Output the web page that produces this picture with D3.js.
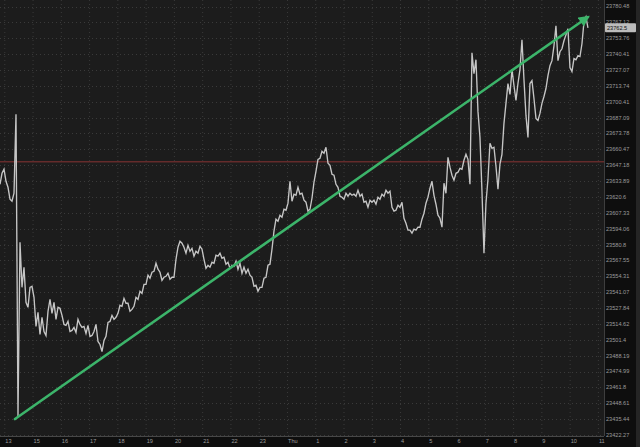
<!DOCTYPE html>
<html><head><meta charset="utf-8">
<script src="https://cdn.jsdelivr.net/npm/d3@7"></script>
<style>html,body{margin:0;padding:0;background:#1c1c1c;overflow:hidden}</style>
</head><body><svg id="c" width="640" height="447"></svg>
<script>
// price samples (one every ~4.2 minutes)
const prices = [
23631.2,23640.4,23643.8,23633.7,23628.7,23618.7,23617.0,23623.7,23689.8,23438.1,
23582.8,23545.1,23561.9,23532.6,23528.4,23545.1,23546.0,23536.8,23512.5,23524.2,
23505.8,23520.1,23508.3,23505.0,23525.1,23535.1,23523.4,23532.6,23518.4,23528.4,
23527.6,23521.7,23514.2,23513.4,23516.7,23508.3,23509.2,23511.7,23507.5,23518.4,
23514.2,23511.7,23512.5,23506.7,23513.4,23504.2,23505.0,23508.3,23514.2,23500.0,
23497.5,23491.6,23500.8,23504.2,23515.9,23516.7,23521.7,23518.4,23520.1,23523.4,
23530.1,23529.3,23535.9,23531.8,23531.8,23525.1,23526.7,23529.3,23536.8,23535.1,
23541.8,23540.1,23547.6,23547.6,23555.2,23552.7,23557.7,23558.5,23565.2,23560.2,
23557.7,23551.0,23553.5,23554.3,23556.8,23551.8,23553.5,23553.5,23568.5,23578.6,
23583.6,23581.9,23578.6,23573.6,23580.2,23575.2,23577.7,23571.1,23575.2,23573.6,
23579.4,23576.9,23568.5,23561.0,23563.5,23561.9,23566.0,23565.2,23571.9,23571.1,
23573.6,23569.4,23570.2,23564.4,23566.0,23561.0,23563.5,23562.7,23566.9,23560.2,
23565.2,23556.8,23561.9,23556.8,23560.2,23555.2,23553.5,23546.0,23546.8,23541.8,
23545.1,23545.1,23552.7,23553.5,23563.5,23564.4,23576.9,23592.0,23602.0,23600.3,
23605.3,23603.7,23610.3,23609.5,23615.4,23633.7,23617.0,23622.9,23622.0,23628.7,
23622.9,23623.7,23617.9,23616.2,23608.7,23610.3,23619.5,23632.9,23642.1,23652.1,
23653.0,23658.8,23657.2,23662.2,23648.8,23647.1,23639.6,23638.8,23631.2,23628.7,
23621.2,23620.4,23618.7,23623.7,23621.2,23623.7,23622.0,23622.9,23621.2,23626.2,
23621.2,23622.9,23616.2,23617.0,23612.0,23617.9,23616.2,23617.9,23614.5,23620.4,
23618.7,23622.9,23621.2,23626.2,23623.7,23625.4,23612.0,23608.7,23609.5,23613.7,
23612.0,23616.2,23602.8,23598.6,23592.8,23592.8,23590.3,23593.6,23592.8,23595.3,
23595.3,23602.0,23607.0,23615.4,23620.4,23627.9,23633.7,23622.0,23614.5,23605.3,
23602.8,23595.3,23632.1,23623.7,23653.8,23645.5,23638.8,23634.6,23640.4,23641.3,
23644.6,23643.8,23651.3,23656.3,23652.1,23631.2,23741.6,23724.0,23735.7,23692.3,
23670.5,23625.4,23573.6,23615.4,23635.4,23665.5,23661.3,23662.2,23646.3,23627.1,
23648.0,23656.3,23682.2,23699.0,23715.7,23706.5,23727.4,23714.0,23701.5,23715.7,
23727.4,23752.5,23719.0,23688.9,23670.5,23715.7,23718.2,23703.1,23686.4,23684.7,
23690.6,23699.0,23704.8,23711.5,23722.4,23730.7,23734.9,23747.4,23764.2,23734.9,
23742.4,23744.9,23751.6,23756.6,23761.7,23729.1,23725.7,23736.6,23735.7,23739.1,
23738.3,23749.1,23767.5,23771.7,23762.5
];
const startMinute = -10.2;     // time of first sample, minutes from first hour tick
const stepMinutes = 4.245;     // sampling interval
const visibleMinutes = [-10.2, 1274];

const xTickLabels = ["13","15","16","17","18","19","20","21","22","23","Thu","1","2","3","4","5","6","7","8","9","10","11"];
const xTickMinutes = [0,60,120,180,240,300,360,420,480,540,600,660,720,780,840,900,960,1020,1080,1140,1200,1260];

const yTickLabels = ["23780.48","23767.12","23753.76","23740.41","23727.07","23713.74","23700.41","23687.09","23673.78","23660.47","23647.18","23633.89","23620.6","23607.33","23594.06","23580.8","23567.55","23554.31","23541.07","23527.84","23514.62","23501.4","23488.19","23474.99","23461.8","23448.61","23435.44","23422.27"];

const prevClose = 23650.0;
const lastPriceLabel = "23762.5";
const lastPrice = 23762.5;
const trendFrom = [21.6, 23435.5];
const trendTo = [1237.8, 23771.6];

const W = 640, H = 447, plotR = 604, plotB = 436;
const svg = d3.select("#c");
const font = "'Liberation Sans', Arial, sans-serif";

const x = d3.scaleLinear().domain(visibleMinutes).range([0, 605]);
const y = d3.scaleLog().domain([23422.27, 23780.48]).range([435, 6.5]);

svg.append("rect").attr("width", W).attr("height", H).attr("fill", "#1c1c1c");

const defs = svg.append("defs");
defs.append("clipPath").attr("id", "plot").append("rect").attr("width", plotR).attr("height", plotB);
defs.append("marker").attr("id", "ah").attr("markerUnits", "userSpaceOnUse")
  .attr("viewBox", "0 0 10 10").attr("refX", 8).attr("refY", 5)
  .attr("markerWidth", 12).attr("markerHeight", 11).attr("orient", "auto")
  .append("path").attr("d", "M0,0 L10,5 L0,10 Z").attr("fill", "#3cb46a");

const g = svg.append("g").attr("clip-path", "url(#plot)");

// grid
g.selectAll("line.vg").data(xTickMinutes).join("line")
  .attr("x1", d => x(d)).attr("x2", d => x(d)).attr("y1", 0).attr("y2", plotB)
  .attr("stroke", "#3a3a3a").attr("stroke-width", 1).attr("stroke-dasharray", "1,3");
g.selectAll("line.hg").data(yTickLabels).join("line")
  .attr("x1", 0).attr("x2", plotR).attr("y1", d => Math.round(y(+d)) + 0.5).attr("y2", d => Math.round(y(+d)) + 0.5)
  .attr("stroke", "#3a3a3a").attr("stroke-width", 1).attr("stroke-dasharray", "1,3");

// previous close
g.append("line").attr("x1", 0).attr("x2", plotR)
  .attr("y1", y(prevClose)).attr("y2", y(prevClose))
  .attr("stroke", "#8a3434").attr("stroke-width", 1);

// price line
const line = d3.line().x((d, i) => x(startMinute + i * stepMinutes)).y(d => y(d));
g.append("path").datum(prices).attr("d", line)
  .attr("fill", "none").attr("stroke", "#c6c6c6").attr("stroke-width", 1.35).attr("stroke-linejoin", "miter");

// trend arrow
g.append("line")
  .attr("x1", x(trendFrom[0])).attr("y1", y(trendFrom[1]))
  .attr("x2", x(trendTo[0])).attr("y2", y(trendTo[1]))
  .attr("stroke", "#3cb46a").attr("stroke-width", 2.6).attr("stroke-linecap", "round")
  .attr("marker-end", "url(#ah)");

// y axis panel
svg.append("rect").attr("x", plotR).attr("y", 0).attr("width", W - plotR).attr("height", H).attr("fill", "#0e0e0e");
svg.append("rect").attr("x", 636).attr("y", 0).attr("width", 4).attr("height", H).attr("fill", "#252525");
svg.append("line").attr("x1", plotR + 0.5).attr("x2", plotR + 0.5).attr("y1", 0).attr("y2", plotB)
  .attr("stroke", "#3e3e3e");
svg.selectAll("text.yl").data(yTickLabels).join("text")
  .attr("x", 606).attr("y", d => y(+d)).attr("dy", "0.35em")
  .attr("font-family", font).attr("font-size", 5.6).attr("fill", "#9c9c9c").text(d => d);

// x axis panel
svg.append("rect").attr("x", 0).attr("y", plotB + 1).attr("width", plotR).attr("height", H - plotB).attr("fill", "#0e0e0e");
svg.append("line").attr("x1", 0).attr("x2", plotR).attr("y1", plotB + 0.5).attr("y2", plotB + 0.5)
  .attr("stroke", "#474747");
svg.selectAll("text.xl").data(xTickMinutes).join("text")
  .attr("x", d => x(d) + 0.5).attr("y", 443.2)
  .attr("font-family", font).attr("font-size", 5.6).attr("fill", "#9c9c9c")
  .text((d, i) => xTickLabels[i]);

// last price tag
const ly = y(lastPrice);
svg.append("rect").attr("x", 605).attr("y", ly - 4.5).attr("width", 31).attr("height", 9)
  .attr("rx", 1).attr("fill", "#bcbcbc");
svg.append("text").attr("x", 607).attr("y", ly).attr("dy", "0.35em")
  .attr("font-family", font).attr("font-size", 5.6).attr("fill", "#111").text(lastPriceLabel);
</script></body></html>
